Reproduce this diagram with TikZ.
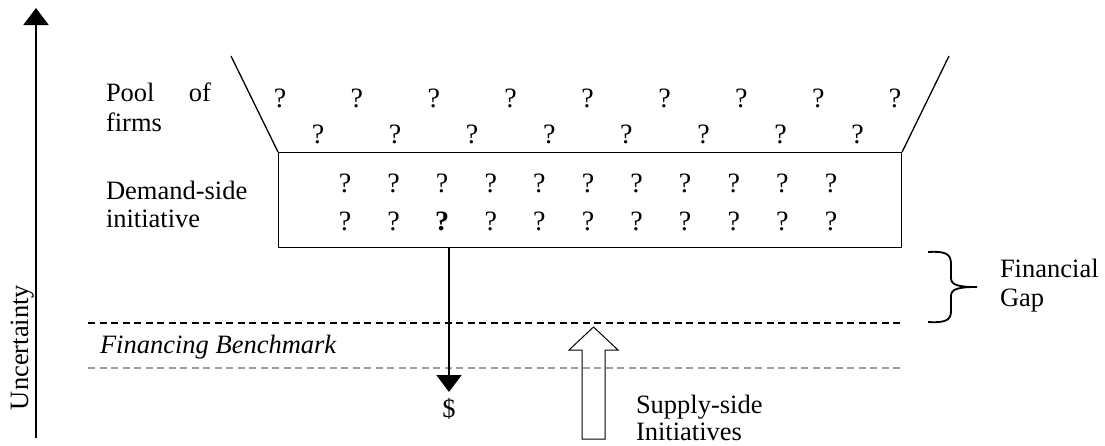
\documentclass[tikz,border=0pt]{standalone}
\usepackage{fontspec}
\setmainfont{Liberation Serif}
\usetikzlibrary{arrows.meta}
\newcommand{\txtfont}{\fontsize{26.5}{29}\selectfont}
\newcommand{\qfont}{\fontsize{28}{30}\selectfont}
\begin{document}
\begin{tikzpicture}[x=1pt,y=-1pt,
  txt/.style={inner sep=0pt, outer sep=0pt, font=\txtfont, align=left},
  qm/.style={inner sep=0pt, outer sep=0pt, font=\qfont, anchor=base},
  bigarrow/.style={line width=2pt, -{Triangle[width=25pt,length=17pt]}},
  funnel/.style={line width=1.3pt},
  gapline/.style={line width=1.5pt, dash pattern=on 7pt off 4.5pt},
  benchline/.style={line width=1.5pt, dash pattern=on 7pt off 4.5pt, draw=black!38},
  bracestyle/.style={line width=1.8pt}]
\useasboundingbox (0,0) rectangle (1105,445);

% uncertainty axis
\coordinate (ubot) at (36,438);
\coordinate (utop) at (36,8);
\draw[bigarrow] (ubot) -- (utop);
\node[txt, rotate=90, anchor=base] (unc) at (28,347.5) {Uncertainty};

% box and funnel
\node[draw, line width=1.1pt, minimum width=623pt, minimum height=95pt,
      inner sep=0pt, anchor=north west] (box) at (278,152) {};
\coordinate (fl) at (231,56);
\coordinate (fr) at (949,56);
\draw[funnel] (fl) -- (box.north west);
\draw[funnel] (fr) -- (box.north east);

% left labels
\node[txt, anchor=base west] (pool) at (106,101) {\hbox to 105pt{Pool\hfill of}};
\node[txt, anchor=base west] (firms) at (106,131) {firms};
\node[txt, anchor=base west] (dem) at (106,199) {Demand-side};
\node[txt, anchor=base west] (init) at (106,227) {initiative};

% question marks in pool
\foreach \i in {0,...,8} {
  \node[qm] (pa\i) at ({280+76.9*\i},107) {?};
}
\foreach \i in {0,...,7} {
  \node[qm] (pb\i) at ({318+77.1*\i},143) {?};
}
% question marks in box
\foreach \i in {0,...,10} {
  \node[qm] (ba\i) at ({345+48.6*\i},192) {?};
}
\foreach \i in {0,...,10} {
  \ifnum\i=2
    \node[qm, font=\qfont\bfseries] (bb\i) at ({345+48.6*\i},230) {?};
  \else
    \node[qm] (bb\i) at ({345+48.6*\i},230) {?};
  \fi
}

% dashed lines
\coordinate (g1) at (88,323);
\coordinate (g2) at (903,323);
\draw[gapline] (g1) -- (g2);
\coordinate (b1) at (88,368);
\coordinate (b2) at (903,368);
\draw[benchline] (b1) -- (b2);
\node[txt, anchor=base west, font=\txtfont\itshape] (bench) at (100,353) {Financing Benchmark};

% down arrow to $
\node[txt, anchor=base] (dollar) at (449,417) {\$};
\coordinate (dtip) at (449,392);
\draw[bigarrow] (box.south -| dtip) -- (dtip);

% hollow up arrow
\draw[line width=1pt, line join=miter]
  (582,439) -- (582,350) -- (569,350) -- (593.5,327) -- (618,350) -- (605,350) -- (605,439) -- cycle;
\node[txt, anchor=base west] (sup1) at (636,413) {Supply-side};
\node[txt, anchor=base west] (sup2) at (636,440) {Initiatives};

% brace
\draw[bracestyle]
  (928,252) .. controls (946,251) and (951,254) .. (951,264) -- (951,278)
  .. controls (951,285) and (958,287) .. (977,287)
  .. controls (958,287) and (951,289) .. (951,296) -- (951,311)
  .. controls (951,320) and (946,323) .. (928,322);
\node[txt, anchor=base west] (fin1) at (1000,277) {Financial};
\node[txt, anchor=base west] (fin2) at (1000,306) {Gap};
\end{tikzpicture}
\end{document}
